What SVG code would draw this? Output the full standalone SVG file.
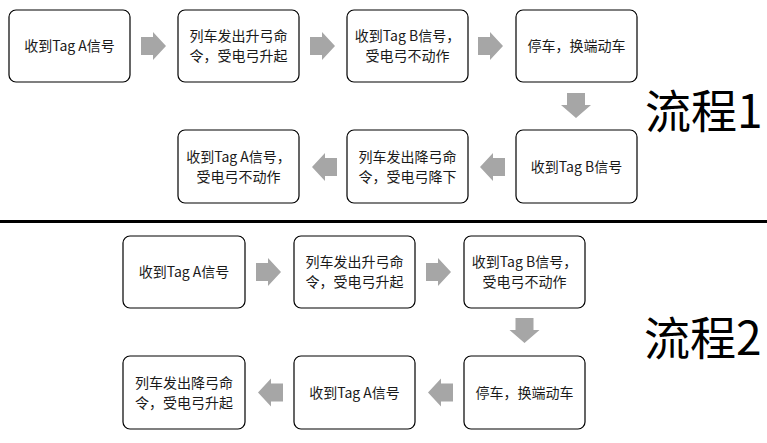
<svg xmlns="http://www.w3.org/2000/svg" width="767" height="443" viewBox="0 0 767 443">
<style>
.box{fill:#fff;stroke:#000;stroke-width:1.2}
.t{font-family:"Noto Sans CJK SC","Noto Sans",sans-serif;font-size:14px;fill:#1a1a1a;text-anchor:middle}
.title{font-family:"Noto Sans CJK SC","Noto Sans",sans-serif;font-size:46px;fill:#000}
.arr{fill:#a6a6a6}
</style>
<defs>
<path id="ar" d="M0,-9 H12 V-14 L25,0 L12,14 V9 H0 Z"/>
<path id="al" d="M0,-9 H-12 V-14 L-25,0 L-12,14 V9 H0 Z"/>
<path id="ad" d="M-9,0 V12 H-15 L0,25 L15,12 H9 V0 Z"/>
</defs>
<rect x="0" y="220" width="767" height="3" fill="#000"/>
<g id="connectors" class="arr">
<use href="#ar" x="141" y="46"/>
<use href="#ar" x="310" y="46"/>
<use href="#ar" x="478" y="46"/>
<use href="#ad" x="576" y="93"/>
<use href="#al" x="505" y="167"/>
<use href="#al" x="337" y="167"/>
<use href="#ar" x="256" y="272"/>
<use href="#ar" x="426" y="272"/>
<use href="#ad" x="524.5" y="318"/>
<use href="#al" x="453" y="392.5"/>
<use href="#al" x="283" y="392.5"/>
</g>
<g id="n1"><rect class="box" x="9" y="10" width="121" height="72" rx="7"/><text class="t" x="69.5" y="51">收到Tag A信号</text></g>
<g id="n2"><rect class="box" x="178" y="10" width="121" height="72" rx="7"/><text class="t" x="238.5" y="41">列车发出升弓命</text><text class="t" x="238.5" y="61">令，受电弓升起</text></g>
<g id="n3"><rect class="box" x="347" y="10" width="121" height="72" rx="7"/><text class="t" x="407.5" y="41">收到Tag B信号，</text><text class="t" x="407.5" y="61">受电弓不动作</text></g>
<g id="n4"><rect class="box" x="516" y="10" width="121" height="72" rx="7"/><text class="t" x="576.5" y="51">停车，换端动车</text></g>
<g id="n5"><rect class="box" x="516" y="130" width="121" height="73" rx="7"/><text class="t" x="576.5" y="172">收到Tag B信号</text></g>
<g id="n6"><rect class="box" x="347" y="130" width="121" height="73" rx="7"/><text class="t" x="407.5" y="161.5">列车发出降弓命</text><text class="t" x="407.5" y="181.5">令，受电弓降下</text></g>
<g id="n7"><rect class="box" x="178" y="130" width="121" height="73" rx="7"/><text class="t" x="238.5" y="161.5">收到Tag A信号，</text><text class="t" x="238.5" y="181.5">受电弓不动作</text></g>
<g id="title1"><text class="title" x="645" y="128">流程1</text></g>
<g id="m1"><rect class="box" x="123" y="236" width="122" height="72" rx="7"/><text class="t" x="184" y="277">收到Tag A信号</text></g>
<g id="m2"><rect class="box" x="294" y="236" width="121" height="72" rx="7"/><text class="t" x="354.5" y="267">列车发出升弓命</text><text class="t" x="354.5" y="287">令，受电弓升起</text></g>
<g id="m3"><rect class="box" x="464" y="236" width="121" height="72" rx="7"/><text class="t" x="524.5" y="267">收到Tag B信号，</text><text class="t" x="524.5" y="287">受电弓不动作</text></g>
<g id="m4"><rect class="box" x="464" y="356" width="121" height="73" rx="7"/><text class="t" x="524.5" y="398">停车，换端动车</text></g>
<g id="m5"><rect class="box" x="294" y="356" width="121" height="73" rx="7"/><text class="t" x="354.5" y="398">收到Tag A信号</text></g>
<g id="m6"><rect class="box" x="123" y="356" width="122" height="73" rx="7"/><text class="t" x="184" y="388">列车发出降弓命</text><text class="t" x="184" y="408">令，受电弓升起</text></g>
<g id="title2"><text class="title" x="644" y="355">流程2</text></g>
</svg>
